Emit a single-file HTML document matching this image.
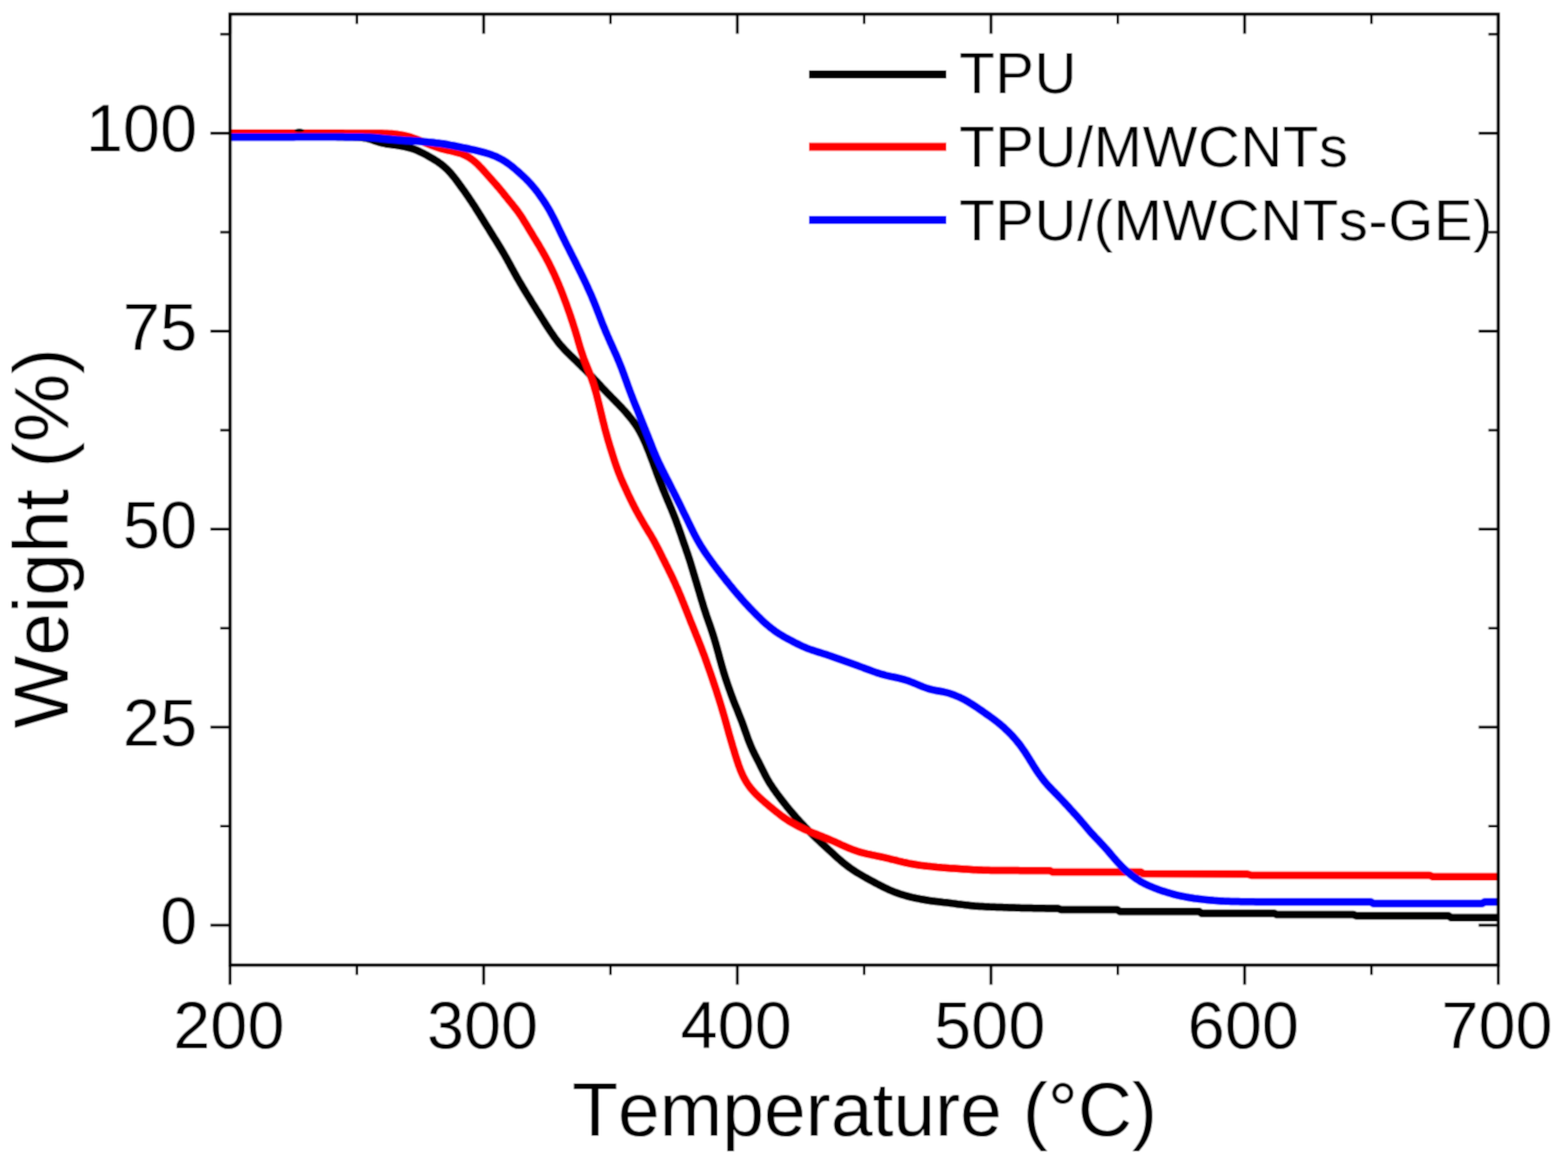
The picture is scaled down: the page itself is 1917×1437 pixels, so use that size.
<!DOCTYPE html>
<html><head><meta charset="utf-8"><title>TGA curves</title>
<style>
html,body{margin:0;padding:0;background:#fff;}
body{width:1917px;height:1437px;overflow:hidden;}
svg{display:block;font-family:"Liberation Sans",Arial,Helvetica,sans-serif;font-kerning:none;}
</style></head><body>
<svg width="1917" height="1437" viewBox="0 0 1917 1437">
<defs><filter id="soft" filterUnits="userSpaceOnUse" x="0" y="0" width="1917" height="1437"><feConvolveMatrix order="3" kernelMatrix="1 2 1 2 4 2 1 2 1" divisor="16" edgeMode="duplicate"/></filter></defs>
<g filter="url(#soft)">
<rect width="1917" height="1437" fill="#fff"/>
<g>
<path d="M281.0,166.5 284.1,166.5 286.9,166.5 289.8,166.6 292.6,166.6 295.5,166.6 298.5,166.6 301.5,166.6 304.6,166.6 307.7,166.6 310.8,166.7 313.9,166.7 316.9,166.7 319.9,166.7 323.0,166.7 326.0,166.7 329.0,166.7 332.0,166.8 335.0,166.8 338.0,166.8 341.0,166.8 344.0,166.8 347.0,166.8 350.0,166.8 353.0,166.9 356.0,166.9 359.0,166.9 362.0,166.9 365.0,166.9 368.0,166.9 371.0,167.0 374.0,167.0 377.0,167.0 380.0,167.0 383.0,167.1 386.0,167.1 389.0,167.1 392.0,167.1 395.0,167.2 398.0,167.2 401.0,167.2 404.0,167.3 407.0,167.3 410.0,167.3 413.0,167.4 416.0,167.4 419.0,167.4 422.1,167.5 425.1,167.5 428.1,167.5 431.1,167.6 434.1,167.7 437.1,167.8 440.1,168.0 442.9,168.3 445.7,168.7 448.4,169.2 450.9,169.8 453.4,170.5 455.8,171.3 458.2,172.2 460.6,173.0 463.1,173.8 465.7,174.5 468.4,175.1 471.2,175.7 474.1,176.2 477.0,176.6 480.0,177.0 483.0,177.4 486.0,177.9 489.0,178.3 492.0,178.8 494.9,179.4 497.8,180.1 500.7,180.8 503.6,181.7 506.4,182.6 509.2,183.7 511.9,184.9 514.6,186.2 517.3,187.5 520.0,188.9 522.6,190.3 525.2,191.8 527.8,193.3 530.4,194.9 533.0,196.5 535.5,198.1 537.9,199.8 540.3,201.6 542.6,203.5 544.8,205.5 547.0,207.5 549.1,209.7 551.1,211.9 553.0,214.2 554.9,216.5 556.8,218.9 558.6,221.3 560.3,223.7 562.1,226.1 563.9,228.6 565.6,231.0 567.4,233.4 569.1,235.9 570.8,238.4 572.5,240.8 574.2,243.3 575.9,245.8 577.5,248.3 579.2,250.8 580.8,253.3 582.4,255.9 584.0,258.4 585.6,261.0 587.2,263.5 588.7,266.0 590.3,268.6 591.9,271.1 593.5,273.7 595.1,276.2 596.7,278.8 598.3,281.3 599.8,283.9 601.4,286.4 603.0,289.0 604.6,291.5 606.2,294.1 607.8,296.6 609.4,299.2 610.9,301.7 612.5,304.3 614.0,306.9 615.5,309.4 617.0,312.0 618.5,314.6 620.0,317.3 621.4,319.9 622.9,322.5 624.3,325.2 625.7,327.8 627.2,330.4 628.6,333.1 630.1,335.7 631.5,338.3 633.0,340.9 634.5,343.5 636.0,346.1 637.6,348.7 639.1,351.3 640.6,353.8 642.2,356.4 643.7,359.0 645.3,361.5 646.9,364.1 648.5,366.6 650.0,369.2 651.6,371.7 653.2,374.3 654.8,376.8 656.4,379.4 658.0,381.9 659.6,384.4 661.2,387.0 662.8,389.5 664.4,392.1 666.0,394.6 667.6,397.1 669.2,399.6 670.9,402.2 672.5,404.7 674.2,407.2 675.9,409.6 677.6,412.1 679.4,414.5 681.2,416.9 683.0,419.3 684.9,421.6 686.9,423.8 688.9,426.0 690.9,428.2 693.0,430.4 695.2,432.5 697.3,434.6 699.5,436.7 701.6,438.8 703.8,440.9 705.9,443.0 708.1,445.1 710.2,447.2 712.3,449.3 714.5,451.4 716.6,453.5 718.7,455.6 720.8,457.8 722.9,459.9 725.0,462.1 727.0,464.2 729.1,466.4 731.2,468.6 733.2,470.8 735.2,473.0 737.3,475.2 739.4,477.4 741.4,479.5 743.5,481.7 745.6,483.8 747.7,486.0 749.8,488.1 751.9,490.2 754.0,492.4 756.1,494.5 758.2,496.7 760.3,498.9 762.3,501.1 764.3,503.3 766.3,505.6 768.2,507.9 770.1,510.2 772.0,512.5 773.8,514.9 775.6,517.3 777.3,519.8 778.9,522.3 780.5,524.8 782.0,527.4 783.4,530.1 784.8,532.7 786.1,535.4 787.4,538.2 788.6,540.9 789.8,543.7 790.9,546.4 792.0,549.2 793.2,552.0 794.3,554.8 795.3,557.6 796.4,560.4 797.5,563.2 798.5,566.0 799.5,568.8 800.6,571.7 801.6,574.5 802.6,577.3 803.6,580.1 804.7,582.9 805.7,585.7 806.8,588.5 807.9,591.3 809.0,594.1 810.1,596.9 811.2,599.7 812.4,602.5 813.5,605.2 814.7,608.0 815.8,610.8 817.0,613.5 818.2,616.3 819.3,619.1 820.5,621.8 821.6,624.6 822.8,627.4 823.9,630.2 825.0,633.0 826.1,635.8 827.1,638.6 828.1,641.4 829.2,644.2 830.1,647.0 831.1,649.9 832.1,652.7 833.1,655.5 834.0,658.4 835.0,661.2 836.0,664.1 837.0,666.9 838.0,669.7 838.9,672.6 839.9,675.4 840.9,678.2 841.8,681.1 842.8,683.9 843.7,686.8 844.6,689.7 845.4,692.5 846.3,695.4 847.2,698.3 848.0,701.1 848.9,704.0 849.7,706.9 850.6,709.8 851.5,712.6 852.3,715.5 853.2,718.4 854.0,721.3 854.9,724.1 855.7,727.0 856.6,729.9 857.4,732.8 858.3,735.6 859.2,738.5 860.0,741.4 860.9,744.2 861.9,747.1 862.8,750.0 863.7,752.8 864.7,755.6 865.7,758.5 866.7,761.3 867.7,764.1 868.7,767.0 869.6,769.8 870.6,772.7 871.5,775.5 872.4,778.4 873.3,781.2 874.1,784.1 875.0,787.0 875.8,789.9 876.6,792.8 877.4,795.7 878.2,798.6 879.0,801.5 879.7,804.3 880.5,807.2 881.3,810.1 882.1,813.0 882.9,815.9 883.8,818.8 884.6,821.7 885.5,824.5 886.4,827.4 887.3,830.2 888.3,833.1 889.2,835.9 890.2,838.8 891.2,841.6 892.2,844.4 893.2,847.3 894.2,850.1 895.3,852.9 896.3,855.7 897.4,858.5 898.5,861.3 899.7,864.1 900.8,866.8 901.9,869.6 903.0,872.4 904.1,875.2 905.2,878.0 906.3,880.8 907.4,883.6 908.4,886.4 909.4,889.2 910.4,892.1 911.4,894.9 912.4,897.7 913.4,900.5 914.4,903.4 915.5,906.2 916.6,909.0 917.7,911.7 918.9,914.5 920.1,917.2 921.4,919.9 922.7,922.6 924.1,925.3 925.4,928.0 926.8,930.6 928.2,933.3 929.5,936.0 930.9,938.7 932.2,941.3 933.6,944.0 934.9,946.7 936.3,949.4 937.7,952.0 939.2,954.6 940.7,957.2 942.3,959.7 944.0,962.2 945.6,964.7 947.4,967.1 949.1,969.6 950.9,972.0 952.7,974.4 954.5,976.8 956.4,979.2 958.2,981.5 960.1,983.9 961.9,986.2 963.8,988.5 965.7,990.9 967.7,993.2 969.6,995.4 971.6,997.7 973.6,1000.0 975.6,1002.2 977.6,1004.4 979.6,1006.6 981.7,1008.8 983.7,1011.0 985.8,1013.1 987.9,1015.3 990.0,1017.4 992.2,1019.5 994.3,1021.6 996.5,1023.7 998.6,1025.8 1000.8,1027.8 1003.0,1029.9 1005.2,1031.9 1007.4,1034.0 1009.6,1036.0 1011.8,1038.0 1014.0,1040.1 1016.2,1042.1 1018.4,1044.1 1020.7,1046.2 1022.9,1048.2 1025.1,1050.2 1027.4,1052.1 1029.7,1054.1 1032.0,1056.0 1034.3,1057.8 1036.7,1059.6 1039.1,1061.4 1041.6,1063.1 1044.1,1064.8 1046.6,1066.4 1049.2,1068.0 1051.8,1069.5 1054.3,1071.0 1056.9,1072.5 1059.6,1074.0 1062.2,1075.5 1064.8,1076.9 1067.5,1078.3 1070.1,1079.7 1072.8,1081.1 1075.4,1082.5 1078.1,1083.9 1080.8,1085.2 1083.5,1086.5 1086.2,1087.8 1088.9,1089.0 1091.7,1090.2 1094.5,1091.3 1097.3,1092.3 1100.1,1093.3 1103.0,1094.2 1105.9,1095.0 1108.8,1095.8 1111.7,1096.6 1114.6,1097.3 1117.5,1098.0 1120.4,1098.6 1123.4,1099.2 1126.3,1099.8 1129.3,1100.3 1132.2,1100.8 1135.2,1101.3 1138.2,1101.7 1141.1,1102.1 1144.1,1102.4 1147.1,1102.8 1150.1,1103.1 1153.0,1103.5 1156.0,1103.8 1159.0,1104.1 1162.0,1104.5 1165.0,1104.9 1167.9,1105.3 1170.9,1105.7 1173.9,1106.0 1176.9,1106.4 1179.8,1106.8 1182.8,1107.1 1185.8,1107.4 1188.8,1107.7 1191.8,1108.0 1194.8,1108.2 1197.8,1108.5 1200.8,1108.6 1203.7,1108.8 1206.7,1108.9 1209.7,1109.1 1212.7,1109.2 1215.7,1109.3 1218.7,1109.4 1221.7,1109.5 1224.7,1109.6 1227.7,1109.7 1230.7,1109.8 1233.7,1109.9 1236.7,1110.0 1239.7,1110.1 1242.7,1110.2 1245.7,1110.3 1248.7,1110.4 1251.7,1110.5 1254.8,1110.5 1257.8,1110.6 1260.9,1110.6 1263.9,1110.7 1267.0,1110.7 1270.2,1110.8 1273.2,1110.8 1276.2,1110.8 1279.2,1110.9 1282.1,1110.9 1284.9,1110.9 1287.8,1110.9 1290.7,1111.0 1293.7,1111.0 L1297.0,1112.6 L1366.0,1112.6 L1369.0,1114.7 L1466.0,1114.7 L1469.0,1117.0 L1558.0,1117.0 L1561.0,1118.6 L1655.0,1118.6 L1658.0,1120.0 L1771.0,1120.0 L1774.0,1122.2 L1831.0,1122.2" stroke="#000" stroke-width="9.5" fill="none" stroke-linejoin="round" stroke-linecap="butt"/>
<path d="M281.0,162.8 284.1,162.8 286.9,162.8 289.8,162.8 292.6,162.8 295.5,162.8 298.5,162.8 301.5,162.8 304.6,162.8 307.7,162.8 310.8,162.8 313.9,162.8 316.9,162.8 320.0,162.8 323.0,162.8 326.0,162.8 329.0,162.8 332.0,162.8 335.0,162.8 338.0,162.8 341.0,162.8 344.0,162.8 347.0,162.8 350.0,162.8 353.0,162.8 356.0,162.8 359.0,162.8 362.0,162.8 365.0,162.8 368.0,162.8 371.0,162.8 374.0,162.8 377.0,162.8 380.0,162.8 383.0,162.8 386.0,162.8 389.0,162.8 392.0,162.8 395.0,162.8 398.0,162.8 401.0,162.8 404.0,162.8 407.0,162.8 410.0,162.8 413.0,162.8 416.0,162.8 419.0,162.8 422.0,162.9 425.0,162.9 428.0,162.9 431.0,162.9 434.0,162.9 437.0,162.9 440.0,163.0 443.0,163.0 446.0,163.0 449.0,163.0 452.0,163.0 455.0,163.1 458.0,163.1 461.0,163.1 464.0,163.1 467.0,163.1 470.0,163.2 473.0,163.3 476.0,163.4 479.0,163.6 482.0,163.9 485.0,164.2 487.9,164.6 490.9,165.1 493.8,165.7 496.7,166.3 499.6,167.1 502.5,167.9 505.3,168.9 508.2,169.9 511.0,171.0 513.7,172.1 516.5,173.2 519.3,174.4 522.1,175.5 524.8,176.7 527.6,177.8 530.4,178.8 533.3,179.8 536.1,180.7 539.0,181.6 541.9,182.4 544.8,183.1 547.7,183.8 550.6,184.4 553.6,185.1 556.5,185.8 559.4,186.6 562.2,187.4 565.0,188.4 567.8,189.6 570.4,190.9 573.0,192.3 575.5,193.9 577.9,195.7 580.2,197.6 582.4,199.6 584.6,201.6 586.7,203.8 588.8,205.9 590.8,208.2 592.8,210.4 594.8,212.6 596.8,214.9 598.8,217.1 600.8,219.4 602.8,221.6 604.8,223.9 606.8,226.1 608.7,228.4 610.7,230.7 612.6,233.0 614.5,235.3 616.4,237.7 618.2,240.0 620.1,242.3 622.0,244.7 623.9,247.0 625.8,249.3 627.6,251.6 629.5,254.0 631.3,256.3 633.1,258.7 634.8,261.2 636.5,263.6 638.2,266.1 639.8,268.7 641.3,271.2 642.9,273.8 644.5,276.3 646.0,278.9 647.6,281.5 649.1,284.0 650.7,286.6 652.2,289.2 653.8,291.7 655.4,294.3 656.9,296.9 658.5,299.4 660.0,302.0 661.5,304.6 663.0,307.2 664.5,309.8 666.0,312.4 667.4,315.0 668.8,317.7 670.2,320.3 671.6,323.0 672.9,325.7 674.2,328.4 675.5,331.1 676.8,333.8 678.1,336.5 679.3,339.3 680.5,342.0 681.7,344.8 682.9,347.5 684.0,350.3 685.2,353.1 686.3,355.9 687.4,358.7 688.4,361.5 689.5,364.3 690.5,367.1 691.6,369.9 692.6,372.7 693.6,375.5 694.6,378.4 695.6,381.2 696.6,384.0 697.6,386.9 698.5,389.7 699.5,392.6 700.4,395.4 701.3,398.3 702.2,401.1 703.1,404.0 704.0,406.9 704.8,409.7 705.7,412.6 706.5,415.5 707.3,418.4 708.2,421.3 709.0,424.1 709.9,427.0 710.8,429.9 711.8,432.7 712.7,435.6 713.7,438.4 714.8,441.2 715.9,444.0 717.0,446.8 718.1,449.5 719.2,452.3 720.3,455.1 721.4,457.9 722.4,460.7 723.5,463.5 724.4,466.4 725.4,469.2 726.3,472.1 727.1,475.0 728.0,477.8 728.8,480.7 729.6,483.6 730.3,486.5 731.0,489.4 731.8,492.4 732.5,495.3 733.2,498.2 733.9,501.1 734.6,504.0 735.3,506.9 736.0,509.8 736.7,512.8 737.4,515.7 738.2,518.6 738.9,521.5 739.6,524.4 740.4,527.3 741.2,530.2 742.0,533.1 742.8,536.0 743.6,538.9 744.5,541.7 745.3,544.6 746.2,547.5 747.1,550.3 748.0,553.2 748.9,556.1 749.8,558.9 750.7,561.8 751.6,564.6 752.6,567.5 753.6,570.3 754.6,573.1 755.6,576.0 756.7,578.8 757.8,581.5 758.9,584.3 760.1,587.1 761.3,589.8 762.5,592.6 763.8,595.3 765.0,598.0 766.3,600.8 767.5,603.5 768.8,606.2 770.1,608.9 771.4,611.6 772.7,614.3 774.1,617.0 775.4,619.6 776.8,622.3 778.2,625.0 779.7,627.6 781.1,630.2 782.6,632.8 784.1,635.4 785.6,638.0 787.1,640.6 788.6,643.2 790.2,645.8 791.7,648.3 793.3,650.9 794.9,653.4 796.4,656.0 797.9,658.6 799.4,661.2 800.8,663.9 802.2,666.5 803.6,669.2 805.0,671.8 806.3,674.5 807.7,677.2 809.0,679.9 810.3,682.6 811.7,685.3 813.0,687.9 814.3,690.6 815.7,693.3 817.0,696.0 818.3,698.7 819.7,701.4 821.0,704.1 822.3,706.8 823.5,709.5 824.8,712.2 826.0,715.0 827.2,717.7 828.5,720.4 829.6,723.2 830.8,726.0 832.0,728.7 833.1,731.5 834.2,734.3 835.4,737.1 836.5,739.9 837.6,742.6 838.7,745.4 839.8,748.2 840.9,751.0 842.0,753.8 843.1,756.6 844.2,759.4 845.3,762.2 846.5,764.9 847.6,767.7 848.7,770.5 849.8,773.3 850.9,776.1 852.1,778.9 853.2,781.6 854.3,784.4 855.4,787.2 856.5,790.0 857.6,792.8 858.6,795.6 859.7,798.4 860.8,801.2 861.8,804.0 862.8,806.9 863.8,809.7 864.8,812.5 865.8,815.3 866.8,818.2 867.8,821.0 868.8,823.8 869.8,826.7 870.7,829.5 871.7,832.4 872.6,835.2 873.6,838.1 874.5,840.9 875.5,843.8 876.4,846.6 877.3,849.5 878.2,852.3 879.1,855.2 880.0,858.0 880.9,860.9 881.8,863.8 882.6,866.7 883.5,869.5 884.3,872.4 885.2,875.3 886.0,878.2 886.8,881.1 887.6,883.9 888.4,886.8 889.2,889.7 890.0,892.6 890.8,895.5 891.6,898.4 892.5,901.3 893.3,904.2 894.1,907.0 895.0,909.9 895.8,912.8 896.7,915.7 897.6,918.6 898.4,921.4 899.3,924.3 900.2,927.2 901.1,930.0 902.1,932.9 903.0,935.7 904.1,938.5 905.1,941.3 906.3,944.1 907.5,946.9 908.7,949.6 910.1,952.2 911.6,954.8 913.1,957.4 914.8,959.9 916.5,962.3 918.4,964.7 920.3,966.9 922.3,969.2 924.4,971.3 926.5,973.4 928.7,975.5 930.9,977.5 933.2,979.5 935.4,981.5 937.7,983.4 940.0,985.3 942.3,987.3 944.7,989.2 947.0,991.1 949.3,993.0 951.7,994.8 954.0,996.7 956.4,998.5 958.9,1000.2 961.3,1001.9 963.8,1003.6 966.4,1005.2 968.9,1006.7 971.6,1008.2 974.2,1009.6 976.9,1011.0 979.5,1012.3 982.3,1013.6 985.0,1014.8 987.7,1016.0 990.5,1017.2 993.3,1018.3 996.1,1019.4 998.9,1020.5 1001.6,1021.6 1004.4,1022.7 1007.2,1023.9 1010.0,1025.0 1012.8,1026.1 1015.5,1027.3 1018.3,1028.5 1021.0,1029.7 1023.8,1031.0 1026.5,1032.2 1029.2,1033.5 1031.9,1034.7 1034.7,1035.9 1037.5,1037.1 1040.2,1038.2 1043.0,1039.3 1045.9,1040.3 1048.7,1041.2 1051.6,1042.1 1054.4,1042.9 1057.4,1043.6 1060.3,1044.3 1063.2,1044.9 1066.1,1045.6 1069.1,1046.2 1072.0,1046.8 1074.9,1047.4 1077.9,1048.0 1080.8,1048.7 1083.7,1049.3 1086.6,1050.0 1089.6,1050.8 1092.5,1051.5 1095.4,1052.2 1098.3,1053.0 1101.2,1053.7 1104.1,1054.4 1107.0,1055.0 1110.0,1055.7 1112.9,1056.3 1115.9,1056.8 1118.8,1057.3 1121.8,1057.8 1124.7,1058.2 1127.7,1058.6 1130.7,1058.9 1133.7,1059.3 1136.7,1059.6 1139.6,1059.9 1142.6,1060.2 1145.6,1060.5 1148.6,1060.7 1151.6,1061.0 1154.6,1061.2 1157.6,1061.4 1160.6,1061.7 1163.6,1061.9 1166.6,1062.1 1169.6,1062.3 1172.5,1062.5 1175.5,1062.7 1178.5,1062.9 1181.5,1063.1 1184.5,1063.3 1187.5,1063.5 1190.5,1063.7 1193.5,1063.8 1196.5,1064.0 1199.5,1064.1 1202.5,1064.2 1205.5,1064.3 1208.5,1064.3 1211.5,1064.4 1214.5,1064.4 1217.5,1064.5 1220.5,1064.5 1223.5,1064.5 1226.5,1064.5 1229.5,1064.6 1232.5,1064.6 1235.5,1064.6 1238.5,1064.6 1241.5,1064.6 1244.5,1064.6 1247.6,1064.7 1250.6,1064.7 1253.7,1064.7 1256.8,1064.7 1259.9,1064.7 1263.0,1064.7 1266.0,1064.7 1269.0,1064.7 1271.9,1064.7 1274.7,1064.8 1277.5,1064.8 1280.4,1064.8 1283.5,1064.8 L1287.0,1066.6 L1395.0,1066.6 L1398.0,1068.6 L1525.0,1069.0 L1530.0,1070.5 L1748.0,1070.5 L1752.0,1072.3 L1831.0,1072.3" stroke="#ff0000" stroke-width="9.5" fill="none" stroke-linejoin="round" stroke-linecap="butt"/>
<ellipse cx="366" cy="159.3" rx="6" ry="2" fill="#000"/>
<path d="M281.0,167.8 284.1,167.8 286.9,167.8 289.8,167.8 292.6,167.8 295.5,167.8 298.5,167.8 301.5,167.8 304.6,167.8 307.7,167.8 310.8,167.7 313.9,167.7 316.9,167.7 319.9,167.7 323.0,167.7 326.0,167.7 329.0,167.7 332.0,167.7 335.0,167.7 338.0,167.7 341.0,167.7 344.0,167.7 347.0,167.7 350.0,167.7 353.0,167.7 356.0,167.7 359.0,167.7 362.0,167.6 365.0,167.6 368.0,167.6 371.0,167.6 374.0,167.6 377.0,167.6 380.0,167.6 383.0,167.6 386.0,167.6 389.0,167.6 392.0,167.6 395.0,167.6 398.0,167.6 401.0,167.6 404.0,167.6 407.0,167.6 410.0,167.6 413.0,167.6 416.0,167.6 419.0,167.6 422.0,167.7 425.0,167.7 428.0,167.7 431.0,167.7 434.0,167.7 437.0,167.7 440.0,167.7 443.0,167.8 446.0,167.9 449.0,168.0 452.0,168.1 455.0,168.3 458.0,168.5 460.9,168.8 463.9,169.1 466.9,169.4 469.9,169.7 472.8,170.0 475.8,170.3 478.8,170.6 481.8,170.8 484.8,171.1 487.8,171.3 490.8,171.5 493.8,171.7 496.8,171.9 499.8,172.0 502.8,172.2 505.7,172.4 508.7,172.6 511.7,172.8 514.7,173.1 517.7,173.3 520.7,173.5 523.7,173.8 526.7,174.0 529.7,174.3 532.7,174.7 535.6,175.0 538.6,175.4 541.6,175.8 544.5,176.3 547.5,176.8 550.4,177.4 553.4,177.9 556.3,178.5 559.3,179.1 562.2,179.7 565.1,180.3 568.1,180.9 571.0,181.5 574.0,182.2 576.9,182.8 579.8,183.4 582.7,184.1 585.7,184.8 588.6,185.6 591.5,186.4 594.4,187.2 597.2,188.1 600.1,189.0 602.9,190.1 605.7,191.2 608.4,192.4 611.0,193.7 613.7,195.1 616.2,196.6 618.7,198.3 621.2,200.0 623.6,201.8 625.9,203.6 628.3,205.5 630.6,207.5 632.8,209.4 635.1,211.4 637.3,213.4 639.5,215.5 641.7,217.5 643.8,219.6 645.9,221.8 648.0,224.0 650.0,226.2 651.9,228.5 653.8,230.8 655.7,233.1 657.5,235.5 659.3,238.0 661.0,240.4 662.7,242.9 664.4,245.3 666.1,247.9 667.7,250.4 669.2,252.9 670.8,255.5 672.3,258.1 673.7,260.7 675.1,263.4 676.5,266.0 677.9,268.7 679.2,271.4 680.5,274.1 681.8,276.8 683.1,279.5 684.4,282.2 685.7,284.9 687.0,287.6 688.3,290.3 689.7,293.0 691.0,295.7 692.3,298.4 693.7,301.1 695.0,303.7 696.4,306.4 697.7,309.1 699.1,311.8 700.4,314.5 701.8,317.1 703.1,319.8 704.5,322.5 705.8,325.2 707.1,327.9 708.5,330.6 709.8,333.3 711.1,335.9 712.4,338.6 713.7,341.3 715.0,344.1 716.3,346.8 717.6,349.5 718.8,352.2 720.0,355.0 721.3,357.7 722.5,360.4 723.7,363.2 724.8,366.0 726.0,368.7 727.1,371.5 728.2,374.3 729.3,377.1 730.4,379.9 731.5,382.7 732.6,385.5 733.6,388.3 734.7,391.1 735.8,393.9 736.9,396.7 738.0,399.4 739.2,402.2 740.3,405.0 741.5,407.7 742.7,410.5 743.9,413.2 745.1,416.0 746.3,418.7 747.6,421.5 748.8,424.2 750.0,426.9 751.2,429.7 752.5,432.4 753.7,435.2 754.9,437.9 756.0,440.7 757.2,443.5 758.3,446.2 759.4,449.0 760.5,451.8 761.5,454.6 762.6,457.5 763.6,460.3 764.6,463.1 765.6,465.9 766.6,468.7 767.6,471.6 768.7,474.4 769.7,477.2 770.8,480.0 771.8,482.8 772.9,485.6 774.0,488.4 775.1,491.2 776.2,494.0 777.3,496.8 778.5,499.5 779.6,502.3 780.7,505.1 781.8,507.9 783.0,510.7 784.1,513.5 785.2,516.2 786.3,519.0 787.4,521.8 788.6,524.6 789.7,527.4 790.8,530.2 791.9,532.9 793.0,535.7 794.1,538.5 795.2,541.3 796.3,544.1 797.4,546.9 798.5,549.7 799.6,552.5 800.8,555.2 802.0,558.0 803.2,560.7 804.4,563.5 805.7,566.2 807.0,568.9 808.3,571.6 809.6,574.3 811.0,576.9 812.3,579.6 813.7,582.3 815.0,585.0 816.4,587.6 817.8,590.3 819.1,593.0 820.5,595.7 821.8,598.4 823.2,601.0 824.5,603.7 825.9,606.4 827.2,609.1 828.5,611.8 829.9,614.5 831.2,617.1 832.5,619.8 833.8,622.5 835.1,625.2 836.4,627.9 837.8,630.6 839.1,633.3 840.4,636.0 841.7,638.7 843.0,641.4 844.3,644.1 845.6,646.8 847.0,649.5 848.3,652.2 849.7,654.9 851.1,657.5 852.5,660.1 854.0,662.7 855.5,665.3 857.1,667.9 858.7,670.4 860.3,673.0 862.0,675.5 863.7,677.9 865.4,680.4 867.1,682.8 868.9,685.3 870.6,687.7 872.4,690.1 874.2,692.5 876.0,694.9 877.9,697.3 879.7,699.6 881.5,702.0 883.4,704.4 885.3,706.7 887.1,709.1 889.0,711.4 890.9,713.7 892.8,716.1 894.7,718.4 896.6,720.7 898.5,723.0 900.5,725.3 902.4,727.6 904.4,729.8 906.3,732.1 908.3,734.4 910.3,736.6 912.3,738.8 914.4,741.0 916.4,743.2 918.5,745.4 920.6,747.5 922.7,749.7 924.8,751.8 926.9,753.9 929.1,756.0 931.2,758.1 933.4,760.2 935.6,762.2 937.9,764.2 940.2,766.1 942.5,768.0 944.9,769.8 947.3,771.6 949.7,773.3 952.2,774.9 954.8,776.5 957.4,778.1 960.0,779.6 962.6,781.0 965.2,782.4 967.9,783.8 970.5,785.2 973.2,786.6 975.9,787.9 978.6,789.2 981.3,790.5 984.1,791.7 986.8,792.8 989.6,793.9 992.4,794.9 995.3,795.8 998.1,796.7 1001.0,797.6 1003.9,798.5 1006.7,799.4 1009.6,800.3 1012.4,801.3 1015.3,802.2 1018.1,803.2 1020.9,804.2 1023.7,805.2 1026.6,806.3 1029.4,807.3 1032.2,808.3 1035.0,809.3 1037.9,810.3 1040.7,811.3 1043.5,812.3 1046.3,813.3 1049.2,814.3 1052.0,815.4 1054.8,816.4 1057.6,817.5 1060.4,818.5 1063.2,819.5 1066.1,820.6 1068.9,821.6 1071.7,822.6 1074.6,823.5 1077.4,824.4 1080.3,825.2 1083.2,826.0 1086.1,826.7 1089.0,827.3 1092.0,827.9 1094.9,828.5 1097.8,829.1 1100.7,829.8 1103.6,830.6 1106.5,831.4 1109.3,832.3 1112.1,833.3 1114.9,834.4 1117.7,835.5 1120.5,836.7 1123.3,837.8 1126.0,839.0 1128.8,840.1 1131.6,841.1 1134.4,842.1 1137.2,842.9 1140.1,843.6 1142.9,844.2 1145.8,844.7 1148.7,845.2 1151.6,845.7 1154.4,846.3 1157.3,847.0 1160.1,847.8 1163.0,848.7 1165.8,849.7 1168.5,850.8 1171.3,852.0 1174.0,853.2 1176.7,854.5 1179.4,855.9 1182.0,857.4 1184.6,858.9 1187.1,860.5 1189.7,862.1 1192.2,863.7 1194.7,865.4 1197.1,867.1 1199.6,868.8 1202.1,870.5 1204.5,872.3 1207.0,874.0 1209.4,875.7 1211.9,877.5 1214.3,879.2 1216.7,881.0 1219.1,882.9 1221.4,884.7 1223.7,886.7 1226.0,888.6 1228.2,890.6 1230.4,892.7 1232.6,894.7 1234.7,896.9 1236.8,899.0 1238.8,901.2 1240.8,903.5 1242.7,905.8 1244.6,908.1 1246.5,910.4 1248.3,912.8 1250.0,915.3 1251.7,917.7 1253.4,920.2 1255.0,922.8 1256.6,925.3 1258.2,927.8 1259.8,930.4 1261.4,932.9 1262.9,935.5 1264.5,938.0 1266.2,940.6 1267.8,943.1 1269.5,945.6 1271.2,948.0 1273.0,950.4 1274.8,952.8 1276.7,955.2 1278.6,957.5 1280.5,959.7 1282.5,961.9 1284.6,964.1 1286.7,966.3 1288.8,968.4 1290.9,970.6 1293.0,972.7 1295.0,974.9 1297.1,977.0 1299.2,979.2 1301.2,981.4 1303.3,983.6 1305.3,985.8 1307.3,988.0 1309.3,990.3 1311.4,992.5 1313.4,994.7 1315.4,996.9 1317.4,999.2 1319.4,1001.4 1321.3,1003.7 1323.3,1006.0 1325.2,1008.2 1327.2,1010.5 1329.1,1012.8 1331.1,1015.1 1333.0,1017.3 1335.0,1019.6 1337.1,1021.8 1339.1,1024.0 1341.2,1026.1 1343.3,1028.3 1345.3,1030.5 1347.4,1032.7 1349.4,1034.9 1351.4,1037.1 1353.4,1039.3 1355.4,1041.6 1357.3,1043.9 1359.2,1046.2 1361.2,1048.5 1363.2,1050.7 1365.1,1053.0 1367.2,1055.2 1369.2,1057.4 1371.3,1059.5 1373.4,1061.6 1375.6,1063.7 1377.8,1065.8 1380.1,1067.7 1382.4,1069.7 1384.7,1071.5 1387.1,1073.3 1389.6,1075.0 1392.1,1076.6 1394.6,1078.2 1397.3,1079.6 1399.9,1081.0 1402.6,1082.3 1405.3,1083.5 1408.1,1084.7 1410.9,1085.8 1413.7,1086.9 1416.5,1088.0 1419.3,1088.9 1422.2,1089.9 1425.1,1090.8 1427.9,1091.7 1430.8,1092.5 1433.7,1093.3 1436.6,1094.1 1439.5,1094.8 1442.4,1095.5 1445.4,1096.1 1448.3,1096.7 1451.2,1097.3 1454.2,1097.8 1457.2,1098.2 1460.1,1098.7 1463.1,1099.1 1466.1,1099.4 1469.1,1099.8 1472.0,1100.1 1475.0,1100.4 1478.0,1100.7 1481.0,1101.0 1484.0,1101.3 1487.0,1101.5 1490.0,1101.7 1493.0,1101.9 1496.0,1102.1 1499.0,1102.2 1502.0,1102.3 1505.0,1102.4 1508.0,1102.5 1511.0,1102.6 1514.1,1102.6 1517.1,1102.7 1520.2,1102.7 1523.3,1102.7 1526.4,1102.8 1529.5,1102.8 1532.4,1102.8 1535.4,1102.9 1538.2,1102.9 1541.1,1102.9 1543.9,1103.0 1546.9,1103.0 1547.9,1103.0 L1676.0,1103.0 L1679.0,1105.0 L1812.0,1105.0 L1815.0,1103.0 L1831.0,1103.0" stroke="#0000ff" stroke-width="9.5" fill="none" stroke-linejoin="round" stroke-linecap="butt"/>
</g>
<g stroke="#000" stroke-linecap="butt">
<line x1="281.30" y1="1180.30" x2="281.30" y2="1204.30" stroke-width="3.6"/>
<line x1="281.30" y1="17.30" x2="281.30" y2="41.30" stroke-width="3.6"/>
<line x1="436.34" y1="1180.30" x2="436.34" y2="1192.30" stroke-width="3.2"/>
<line x1="436.34" y1="17.30" x2="436.34" y2="29.30" stroke-width="3.2"/>
<line x1="591.38" y1="1180.30" x2="591.38" y2="1204.30" stroke-width="3.6"/>
<line x1="591.38" y1="17.30" x2="591.38" y2="41.30" stroke-width="3.6"/>
<line x1="746.42" y1="1180.30" x2="746.42" y2="1192.30" stroke-width="3.2"/>
<line x1="746.42" y1="17.30" x2="746.42" y2="29.30" stroke-width="3.2"/>
<line x1="901.46" y1="1180.30" x2="901.46" y2="1204.30" stroke-width="3.6"/>
<line x1="901.46" y1="17.30" x2="901.46" y2="41.30" stroke-width="3.6"/>
<line x1="1056.50" y1="1180.30" x2="1056.50" y2="1192.30" stroke-width="3.2"/>
<line x1="1056.50" y1="17.30" x2="1056.50" y2="29.30" stroke-width="3.2"/>
<line x1="1211.54" y1="1180.30" x2="1211.54" y2="1204.30" stroke-width="3.6"/>
<line x1="1211.54" y1="17.30" x2="1211.54" y2="41.30" stroke-width="3.6"/>
<line x1="1366.58" y1="1180.30" x2="1366.58" y2="1192.30" stroke-width="3.2"/>
<line x1="1366.58" y1="17.30" x2="1366.58" y2="29.30" stroke-width="3.2"/>
<line x1="1521.62" y1="1180.30" x2="1521.62" y2="1204.30" stroke-width="3.6"/>
<line x1="1521.62" y1="17.30" x2="1521.62" y2="41.30" stroke-width="3.6"/>
<line x1="1676.66" y1="1180.30" x2="1676.66" y2="1192.30" stroke-width="3.2"/>
<line x1="1676.66" y1="17.30" x2="1676.66" y2="29.30" stroke-width="3.2"/>
<line x1="1831.70" y1="1180.30" x2="1831.70" y2="1204.30" stroke-width="3.6"/>
<line x1="1831.70" y1="17.30" x2="1831.70" y2="41.30" stroke-width="3.6"/>
<line x1="281.30" y1="1131.50" x2="257.30" y2="1131.50" stroke-width="3.6"/>
<line x1="1831.70" y1="1131.50" x2="1807.70" y2="1131.50" stroke-width="3.6"/>
<line x1="281.30" y1="1010.42" x2="269.30" y2="1010.42" stroke-width="3.2"/>
<line x1="1831.70" y1="1010.42" x2="1819.70" y2="1010.42" stroke-width="3.2"/>
<line x1="281.30" y1="889.35" x2="257.30" y2="889.35" stroke-width="3.6"/>
<line x1="1831.70" y1="889.35" x2="1807.70" y2="889.35" stroke-width="3.6"/>
<line x1="281.30" y1="768.27" x2="269.30" y2="768.27" stroke-width="3.2"/>
<line x1="1831.70" y1="768.27" x2="1819.70" y2="768.27" stroke-width="3.2"/>
<line x1="281.30" y1="647.20" x2="257.30" y2="647.20" stroke-width="3.6"/>
<line x1="1831.70" y1="647.20" x2="1807.70" y2="647.20" stroke-width="3.6"/>
<line x1="281.30" y1="526.12" x2="269.30" y2="526.12" stroke-width="3.2"/>
<line x1="1831.70" y1="526.12" x2="1819.70" y2="526.12" stroke-width="3.2"/>
<line x1="281.30" y1="405.05" x2="257.30" y2="405.05" stroke-width="3.6"/>
<line x1="1831.70" y1="405.05" x2="1807.70" y2="405.05" stroke-width="3.6"/>
<line x1="281.30" y1="283.98" x2="269.30" y2="283.98" stroke-width="3.2"/>
<line x1="1831.70" y1="283.98" x2="1819.70" y2="283.98" stroke-width="3.2"/>
<line x1="281.30" y1="162.90" x2="257.30" y2="162.90" stroke-width="3.6"/>
<line x1="1831.70" y1="162.90" x2="1807.70" y2="162.90" stroke-width="3.6"/>
<line x1="281.30" y1="41.83" x2="269.30" y2="41.83" stroke-width="3.2"/>
<line x1="1831.70" y1="41.83" x2="1819.70" y2="41.83" stroke-width="3.2"/>
</g>
<rect x="281.30" y="17.30" width="1550.40" height="1163.00" fill="none" stroke="#000" stroke-width="4"/>
<g font-size="81.5" fill="#000">
<text x="279.8" y="1281.5" text-anchor="middle">200</text>
<text x="589.9" y="1281.5" text-anchor="middle">300</text>
<text x="900.0" y="1281.5" text-anchor="middle">400</text>
<text x="1210.0" y="1281.5" text-anchor="middle">500</text>
<text x="1520.1" y="1281.5" text-anchor="middle">600</text>
<text x="1830.2" y="1281.5" text-anchor="middle">700</text>
<text x="241" y="1154.0" text-anchor="end">0</text>
<text x="241" y="911.9" text-anchor="end">25</text>
<text x="241" y="669.7" text-anchor="end">50</text>
<text x="241" y="427.5" text-anchor="end">75</text>
<text x="241" y="185.4" text-anchor="end">100</text>
</g>

<line x1="989" y1="91" x2="1157" y2="91" stroke="#000" stroke-width="10" stroke-linecap="butt"/>
<line x1="989" y1="179.5" x2="1157" y2="179.5" stroke="#ff0000" stroke-width="10" stroke-linecap="butt"/>
<line x1="989" y1="269" x2="1157" y2="269" stroke="#0000ff" stroke-width="10" stroke-linecap="butt"/>
<g font-size="71" letter-spacing="0.65">
<text x="1172.8" y="114.2">TPU</text>
<text x="1172.8" y="204">TPU/MWCNTs</text>
<text x="1172.8" y="293.6">TPU/(MWCNTs-GE)</text>
</g>
<text x="1057" y="1389" font-size="91.8" text-anchor="middle">Temperature (°C)</text>
<text transform="translate(83,658.3) rotate(-90)" font-size="94" text-anchor="middle">Weight (%)</text>
</g>
</svg>
</body></html>
